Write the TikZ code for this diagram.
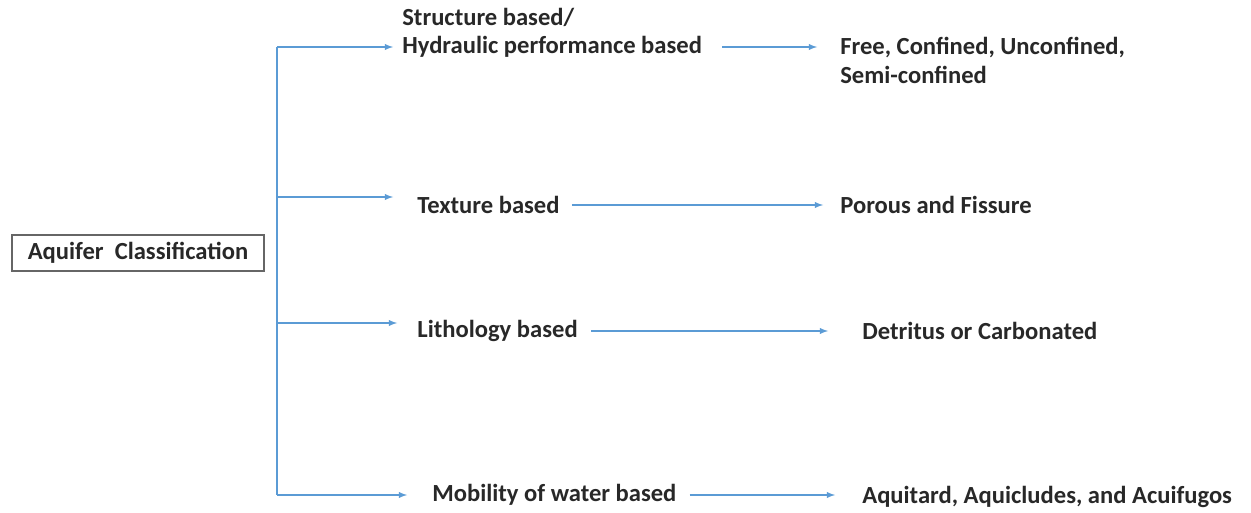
\documentclass[tikz,border=0pt]{standalone}
\usepackage{fontspec}
\setmainfont{Carlito}
\usepackage{tikz}

\definecolor{lineblue}{RGB}{91,155,213}
\definecolor{textgray}{RGB}{40,40,40}

\begin{document}
\begin{tikzpicture}[>=latex,
	font=\fontsize{14}{16}\selectfont\bfseries, text=textgray,
	txt/.style={inner sep=0pt,anchor=west,align=left},
	conn/.style={draw=lineblue,line width=0.6pt}]
	\useasboundingbox (0,0) rectangle (25.02,10.24);

	\node[draw=black!60,line width=1.2pt,minimum width=5.04cm,minimum height=0.72cm] (AC) at (2.76,5.18) {Aquifer\ \ Classification};

	\coordinate (T1) at (5.54,9.30);
	\coordinate (T2) at (5.54,6.30);
	\coordinate (T3) at (5.54,3.78);
	\coordinate (T4) at (5.54,0.34);

	\node[txt] (SB) at (8.04,9.58) {Structure based/\\Hydraulic performance based};
	\node[txt] (TB) at (8.34,6.14) {Texture based};
	\node[txt] (LB) at (8.34,3.62) {Lithology based};
	\node[txt] (MB) at (8.64,0.34) {Mobility of water based};

	\node[txt] (FC) at (16.80,9.03) {Free, Confined, Unconfined,\\Semi-confined};
	\node[txt] (PF) at (16.80,6.14) {Porous and Fissure};
	\node[txt] (DC) at (17.24,3.62) {Detritus or Carbonated};
	\node[txt] (AA) at (17.24,0.30) {Aquitard, Aquicludes, and Acuifugos};

	\draw[conn] (T1) -- (T4);
	\draw[conn,->,shorten >=0.18cm] (T1) -- (SB.west |- T1);
	\draw[conn,->,shorten >=0.48cm] (T2) -- (TB.west |- T2);
	\draw[conn,->,shorten >=0.40cm] (T3) -- (LB.west |- T3);
	\draw[conn,->,shorten >=0.50cm] (T4) -- (MB.west |- T4);

	\draw[conn,->,shorten <=0.40cm,shorten >=0.46cm] (SB.east |- T1) -- (FC.west |- T1);
	\draw[conn,->,shorten <=0.24cm,shorten >=0.34cm] (TB) -- (PF);
	\draw[conn,->,shorten <=0.26cm,shorten >=0.68cm] (LB) -- (DC);
	\draw[conn,->,shorten <=0.26cm,shorten >=0.54cm] (MB.east) -- (AA.west |- MB.east);
\end{tikzpicture}
\end{document}
